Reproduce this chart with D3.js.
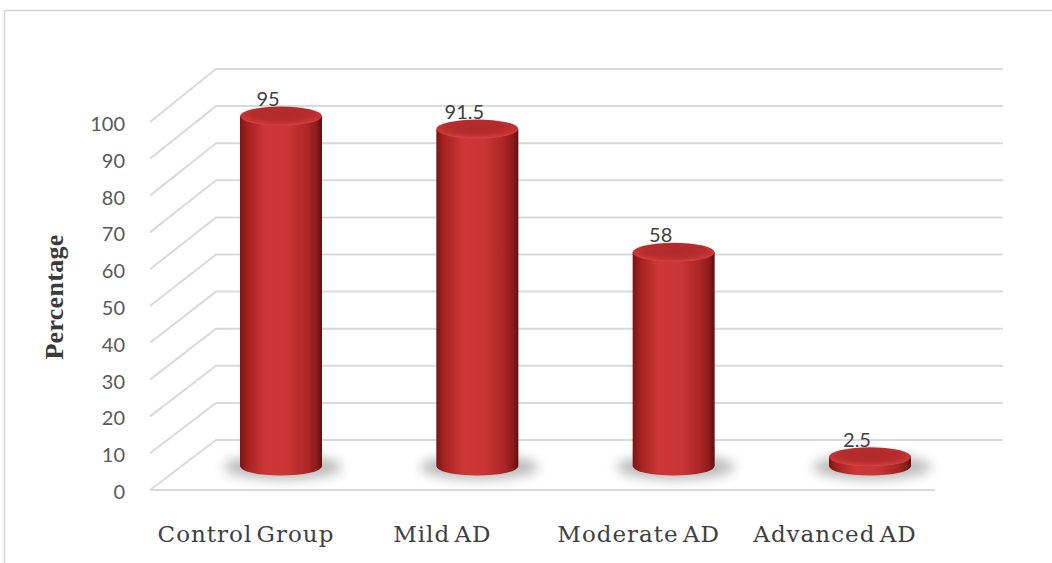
<!DOCTYPE html>
<html>
<head>
<meta charset="utf-8">
<script src="https://cdn.jsdelivr.net/npm/d3@7/dist/d3.min.js"></script>
<style>
  html, body { margin: 0; padding: 0; background: #ffffff; }
  svg { display: block; }
</style>
</head>
<body>
<svg id="chart" width="1052" height="563"></svg>
<script>
// Share of each group (percentage)
const categories = ["Control Group", "Mild AD", "Moderate AD", "Advanced AD"];
const values = [95, 91.5, 58, 2.5];
const valueLabels = ["95", "91.5", "58", "2.5"];
const tickValues = [0, 10, 20, 30, 40, 50, 60, 70, 80, 90, 100];
const axisTitle = "Percentage";

const svg = d3.select("#chart");
const defs = svg.append("defs");

// 3-D frame geometry: front edge of the side wall and back wall
const wallLeftFront = 150, wallLeftBack = 216, wallRight = 1003, floorRight = 935;
const yFront = d3.scaleLinear().domain([0, 100]).range([490, 122]);
const yBack = d3.scaleLinear().domain([0, 100]).range([440, 69]);
// cylinders stand in the middle of the depth
const yBar = d3.scaleLinear().domain([0, 100]).range([466, 97.6]);
const x = d3.scalePoint().domain(categories).range([281, 870]);
const labelShift = -35;
const rx = 41, ry = 9.5;

// outer frame
svg.append("path")
  .attr("d", "M4.5,563 L4.5,10.5 L1052,10.5")
  .attr("fill", "none").attr("stroke", "#d4d4d4").attr("stroke-width", 1.5);

// gridlines: side-wall diagonal then back-wall horizontal
const grid = svg.append("g").attr("fill", "none").attr("stroke", "#d9d9d9").attr("stroke-width", 2);
tickValues.forEach(v => {
  grid.append("path")
    .attr("d", `M${wallLeftFront},${yFront(v)} L${wallLeftBack},${yBack(v)} L${wallRight},${yBack(v)}`);
});
// floor front edge
grid.append("line")
  .attr("x1", wallLeftFront).attr("y1", yFront(0))
  .attr("x2", floorRight).attr("y2", yFront(0));

// y tick labels
svg.append("g").selectAll("text").data(tickValues).join("text")
  .attr("x", 125).attr("y", d => yFront(d) + 1)
  .attr("text-anchor", "end").attr("dominant-baseline", "central")
  .attr("font-family", "Lato, 'Open Sans', sans-serif").attr("font-size", 20)
  .attr("fill", "#595959")
  .text(d => d);

// axis title
svg.append("text")
  .attr("transform", "translate(63,297) rotate(-90)")
  .attr("text-anchor", "middle")
  .attr("font-family", "'Liberation Serif', 'DejaVu Serif', serif")
  .attr("font-weight", "bold").attr("font-size", 26)
  .attr("letter-spacing", 0.3)
  .attr("fill", "#3a3a3a")
  .text(axisTitle);

// gradients for cylinders
const bodyGrad = defs.append("linearGradient").attr("id", "cylBody")
  .attr("x1", "0%").attr("x2", "100%").attr("y1", "0%").attr("y2", "0%");
[[0, "#7a1414"], [0.1, "#a82222"], [0.32, "#cd3737"], [0.6, "#c93434"], [0.82, "#ac2626"], [0.94, "#8a1a1a"], [1, "#5e0e0e"]]
  .forEach(([o, c]) => bodyGrad.append("stop").attr("offset", o).attr("stop-color", c));
const capGrad = defs.append("radialGradient").attr("id", "cylTop")
  .attr("cx", "50%").attr("cy", "40%").attr("r", "60%");
[[0, "#b02a2a"], [0.6, "#b72c2c"], [0.85, "#c93636"], [1, "#d84444"]]
  .forEach(([o, c]) => capGrad.append("stop").attr("offset", o).attr("stop-color", c));
defs.append("filter").attr("id", "shadowBlur")
  .attr("x", "-50%").attr("y", "-100%").attr("width", "200%").attr("height", "300%")
  .append("feGaussianBlur").attr("stdDeviation", 6);

const data = categories.map((c, i) => ({ c, v: values[i], label: valueLabels[i] }));
const bars = svg.append("g").selectAll("g").data(data).join("g");

// soft floor shadow
bars.append("ellipse")
  .attr("cx", d => x(d.c) + 2).attr("cy", yBar(0) + 1)
  .attr("rx", rx + 18).attr("ry", ry + 3)
  .attr("fill", "#666666").attr("opacity", 0.45)
  .attr("filter", "url(#shadowBlur)");

// cylinder body
bars.append("path")
  .attr("d", d => {
    const cx = x(d.c), yt = yBar(d.v), yb = yBar(0);
    return `M${cx - rx},${yt} L${cx - rx},${yb} A${rx},${ry} 0 0 0 ${cx + rx},${yb} L${cx + rx},${yt} Z`;
  })
  .attr("fill", "url(#cylBody)");

// cylinder top
bars.append("ellipse")
  .attr("cx", d => x(d.c)).attr("cy", d => yBar(d.v))
  .attr("rx", rx).attr("ry", ry)
  .attr("fill", "url(#cylTop)");

// value labels
bars.append("text")
  .attr("x", d => x(d.c) - 13).attr("y", d => yBar(d.v) - 10)
  .attr("text-anchor", "middle")
  .attr("font-family", "Lato, 'Open Sans', sans-serif").attr("font-size", 20)
  .attr("fill", "#404040")
  .text(d => d.label);

// category labels along the front edge
svg.append("g").selectAll("text").data(categories).join("text")
  .attr("x", d => x(d) + labelShift).attr("y", 542)
  .attr("text-anchor", "middle")
  .attr("font-family", "'DejaVu Serif', serif").attr("font-size", 23)
  .attr("letter-spacing", 1)
  .attr("word-spacing", -4)
  .attr("fill", "#404040")
  .text(d => d);
</script>
</body>
</html>
